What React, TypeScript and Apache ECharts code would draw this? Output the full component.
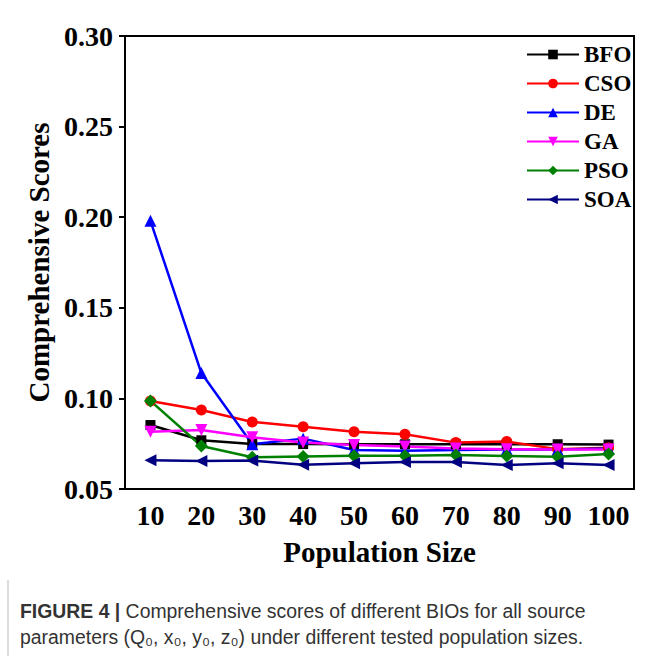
import React, { useEffect, useRef } from "react";
import * as echarts from "echarts";

const categories = ["10", "20", "30", "40", "50", "60", "70", "80", "90", "100"];
const BFO = [0.0853, 0.0769, 0.0748, 0.0748, 0.0747, 0.0747, 0.0747, 0.0747, 0.0747, 0.0745];
const CSO = [0.0986, 0.0936, 0.087, 0.0844, 0.0816, 0.0802, 0.0756, 0.0762, 0.072, 0.0728];
const DE = [0.198, 0.114, 0.0747, 0.0778, 0.0715, 0.0711, 0.0715, 0.0718, 0.0718, 0.0724];
const GA = [0.0816, 0.0826, 0.0785, 0.0757, 0.0743, 0.0734, 0.0724, 0.072, 0.0718, 0.0718];
const PSO = [0.0986, 0.0737, 0.0675, 0.068, 0.0684, 0.0684, 0.0688, 0.0682, 0.0678, 0.0693];
const SOA = [0.0658, 0.0655, 0.0657, 0.0634, 0.0642, 0.0649, 0.0649, 0.0632, 0.0642, 0.0632];

const seriesDefs = [
  { name: "BFO", data: BFO, color: "#000000", symbol: "rect", rotate: 0, size: 10 },
  { name: "CSO", data: CSO, color: "#ff0000", symbol: "circle", rotate: 0, size: 11 },
  { name: "DE", data: DE, color: "#0000ff", symbol: "triangle", rotate: 0, size: 12 },
  { name: "GA", data: GA, color: "#ff00ff", symbol: "triangle", rotate: 180, size: 12 },
  { name: "PSO", data: PSO, color: "#008000", symbol: "diamond", rotate: 0, size: 13 },
  { name: "SOA", data: SOA, color: "#000080", symbol: "triangle", rotate: 90, size: 12 },
];

const serif = "'Liberation Serif', 'Times New Roman', serif";
const sans = "'Liberation Sans', Arial, sans-serif";

export default function App() {
  const ref = useRef<HTMLDivElement>(null);
  useEffect(() => {
    if (!ref.current) return;
    const chart = echarts.init(ref.current, undefined, { renderer: "svg" });
    chart.setOption({
      animation: false,
      backgroundColor: "#ffffff",
      grid: {
        left: 125,
        top: 36,
        right: 20,
        bottom: 167,
        show: true,
        borderColor: "#000",
        borderWidth: 2,
        backgroundColor: "transparent",
      },
      legend: {
        orient: "vertical",
        left: 521,
        top: 38,
        itemWidth: 52,
        itemHeight: 12,
        itemGap: 6,
        textStyle: { fontFamily: serif, fontWeight: "bold", fontSize: 23, color: "#000" },
        data: seriesDefs.map((s) => s.name),
      },
      xAxis: {
        type: "category",
        data: categories,
        boundaryGap: true,
        name: "Population Size",
        nameLocation: "middle",
        nameGap: 48,
        nameTextStyle: { fontFamily: serif, fontWeight: "bold", fontSize: 29, color: "#000" },
        axisLine: { lineStyle: { color: "#000", width: 2 } },
        axisTick: { alignWithLabel: true, interval: 0, length: 6, lineStyle: { color: "#000", width: 2 } },
        axisLabel: {
          fontFamily: serif,
          fontWeight: "bold",
          fontSize: 28,
          color: "#000",
          margin: 12,
          interval: 0,
          hideOverlap: false,
        },
        splitLine: { show: false },
      },
      yAxis: {
        type: "value",
        min: 0.05,
        max: 0.3,
        interval: 0.05,
        name: "Comprehensive Scores",
        nameLocation: "middle",
        nameGap: 70,
        nameTextStyle: { fontFamily: serif, fontWeight: "bold", fontSize: 29, color: "#000" },
        axisLine: { show: true, lineStyle: { color: "#000", width: 2 } },
        axisTick: { show: true, length: 6, lineStyle: { color: "#000", width: 2 } },
        axisLabel: {
          fontFamily: serif,
          fontWeight: "bold",
          fontSize: 28,
          color: "#000",
          margin: 12,
          formatter: (v: number) => v.toFixed(2),
        },
        splitLine: { show: false },
      },
      series: seriesDefs.map((s) => ({
        name: s.name,
        type: "line",
        data: s.data,
        symbol: s.symbol,
        symbolRotate: s.rotate,
        symbolSize: s.size,
        showAllSymbol: true,
        lineStyle: { color: s.color, width: 2.5 },
        itemStyle: { color: s.color },
      })),
      graphic: [
        {
          type: "line",
          shape: { x1: 8, y1: 580, x2: 8, y2: 656 },
          style: { stroke: "#bbbbbb", lineWidth: 1 },
        },
        {
          type: "text",
          left: 20,
          top: 601,
          style: {
            text: "{b|FIGURE 4 |} Comprehensive scores of different BIOs for all source",
            rich: {
              b: { fontFamily: sans, fontWeight: "bold", fontSize: 19.4, fill: "#333" },
            },
            fontFamily: sans,
            fontSize: 19.4,
            fill: "#333",
          },
        },
        {
          type: "text",
          left: 20,
          top: 627,
          style: {
            text: "parameters (Q₀, x₀, y₀, z₀) under different tested population sizes.",
            fontFamily: sans,
            fontSize: 19.4,
            fill: "#333",
          },
        },
      ],
    });
    return () => chart.dispose();
  }, []);
  return (
    <div
      ref={ref}
      style={{ position: "fixed", left: 0, top: 0, width: 654, height: 656 }}
    />
  );
}
